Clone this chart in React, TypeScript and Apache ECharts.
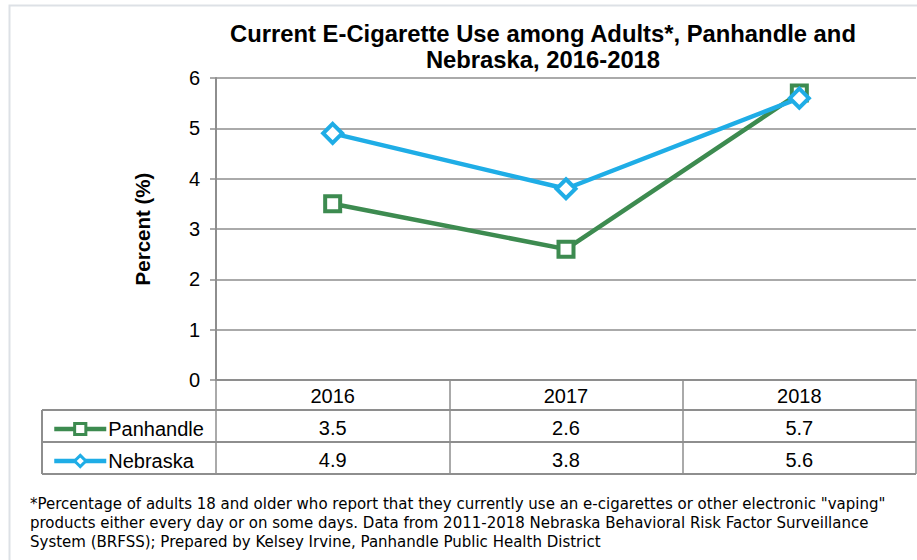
import React, { useEffect, useRef } from "react";
import * as echarts from "echarts";

const years = ["2016", "2017", "2018"];
const panhandle = [3.5, 2.6, 5.7];
const nebraska = [4.9, 3.8, 5.6];
const yTicks = [0, 1, 2, 3, 4, 5, 6];
const seriesNames = ["Panhandle", "Nebraska"];
const titleText = "Current E-Cigarette Use among Adults*, Panhandle and\nNebraska, 2016-2018";
const yName = "Percent (%)";
const footnote = [
  '*Percentage of adults 18 and older who report that they currently use an e-cigarettes or other electronic "vaping"',
  "products either every day or on some days. Data from 2011-2018 Nebraska Behavioral Risk Factor Surveillance",
  "System (BRFSS); Prepared by Kelsey Irvine, Panhandle Public Health District",
];

const GREEN = "#3d8b50";
const BLUE = "#1fade6";
const GRID = "#8e8e8e";
const FONT = "Liberation Sans, Arial";

export default function App() {
  const ref = useRef<HTMLDivElement>(null);
  useEffect(() => {
    if (!ref.current) return;
    const chart = echarts.init(ref.current, undefined, { renderer: "svg" });
    const left = 216;
    const right = 916;
    const top = 78;
    const bottom = 380;
    const rowH = 32;
    const legendBase = {
      left: 47,
      itemWidth: 52,
      itemHeight: 14,
      itemGap: 4,
      selectedMode: false,
      lineStyle: { width: 4.5 },
      itemStyle: { borderWidth: 3 },
      textStyle: { fontFamily: FONT, fontSize: 20, color: "#000", padding: [0, 0, 0, -3] },
    };
    chart.setOption({
      animation: false,
      backgroundColor: "#ffffff",
      title: {
        text: titleText,
        left: 538,
        textAlign: "center",
        top: 15,
        textStyle: {
          fontFamily: FONT,
          fontWeight: "bold",
          fontSize: 23.8,
          lineHeight: 26,
          color: "#000",
        },
      },
      legend: [
        { ...legendBase, data: [seriesNames[0]], top: 414 },
        { ...legendBase, data: [seriesNames[1]], top: 446 },
      ],
      grid: { left, top, width: right - left, height: bottom - top, containLabel: false },
      xAxis: {
        type: "category",
        data: years,
        boundaryGap: true,
        axisLine: { show: true, lineStyle: { color: GRID, width: 2 } },
        axisTick: { show: true, length: 94, lineStyle: { color: GRID, width: 1.5 } },
        axisLabel: {
          margin: 0,
          interval: 0,
          formatter: (v: string, i: number) =>
            `{h|${v}}\n{v|${panhandle[i].toFixed(1)}}\n{v|${nebraska[i].toFixed(1)}}`,
          rich: {
            h: { fontFamily: FONT, fontSize: 20, lineHeight: rowH, color: "#000" },
            v: { fontFamily: FONT, fontSize: 20, lineHeight: rowH, color: "#000" },
          },
        },
      },
      yAxis: {
        type: "value",
        min: yTicks[0],
        max: yTicks[yTicks.length - 1],
        interval: 1,
        name: yName,
        nameLocation: "middle",
        nameGap: 63,
        nameTextStyle: { fontFamily: FONT, fontWeight: "bold", fontSize: 20.5, color: "#000" },
        axisLine: { show: true, lineStyle: { color: GRID, width: 2 } },
        axisTick: { show: true, length: 6, lineStyle: { color: GRID, width: 1.5 } },
        axisLabel: { margin: 16, fontFamily: FONT, fontSize: 20, color: "#000" },
        splitLine: { show: true, lineStyle: { color: GRID, width: 1.5 } },
      },
      series: [
        {
          name: seriesNames[0],
          type: "line",
          data: panhandle,
          symbol: "rect",
          symbolSize: 15,
          lineStyle: { color: GREEN, width: 4.5 },
          itemStyle: { color: "#fff", borderColor: GREEN, borderWidth: 4 },
          emphasis: { disabled: true },
          z: 3,
        },
        {
          name: seriesNames[1],
          type: "line",
          data: nebraska,
          symbol: "diamond",
          symbolSize: 19,
          lineStyle: { color: BLUE, width: 4.5 },
          itemStyle: { color: "#fff", borderColor: BLUE, borderWidth: 4 },
          emphasis: { disabled: true },
          z: 4,
        },
      ],
      graphic: [
        {
          type: "rect",
          shape: { x: 9.5, y: 5.5, width: 920, height: 600 },
          style: { fill: "none", stroke: "#dde1e6", lineWidth: 2 },
          silent: true,
        },
        ...[bottom + 30, bottom + 30 + rowH, bottom + 30 + 2 * rowH].map((y) => ({
          type: "line",
          shape: { x1: 42, y1: y, x2: right, y2: y },
          style: { stroke: GRID, lineWidth: 2 },
          silent: true,
        })),
        {
          type: "line",
          shape: { x1: 42, y1: bottom + 30, x2: 42, y2: bottom + 30 + 2 * rowH },
          style: { stroke: GRID, lineWidth: 2 },
          silent: true,
        },
        {
          type: "text",
          left: 30,
          top: 494,
          style: {
            text: footnote.join("\n"),
            fontFamily: "DejaVu Sans",
            fontSize: 15,
            lineHeight: 19,
            fill: "#000",
          },
          silent: true,
        },
      ],
    });
    return () => chart.dispose();
  }, []);
  return <div ref={ref} style={{ position: "fixed", left: 0, top: 0, width: 917, height: 560 }} />;
}
